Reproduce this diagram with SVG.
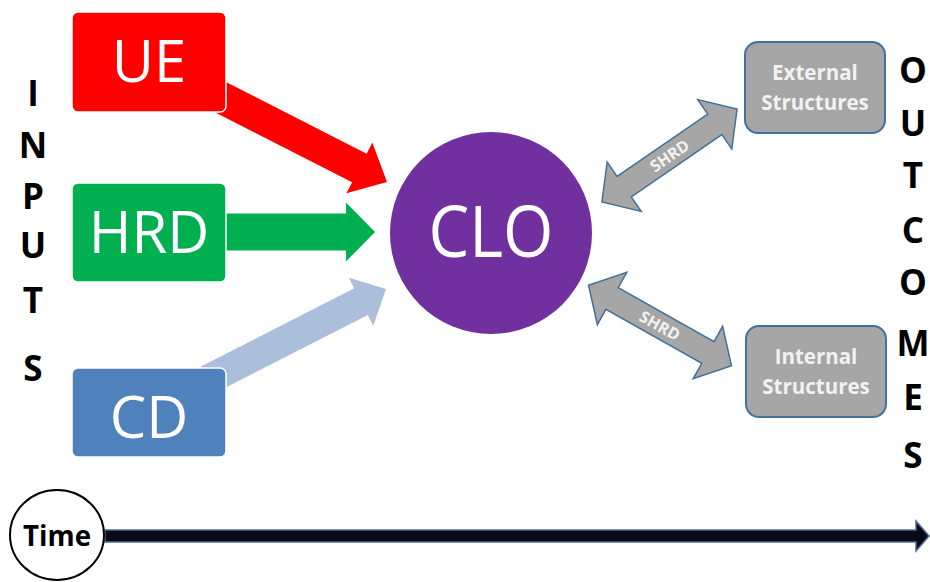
<svg xmlns="http://www.w3.org/2000/svg" width="930" height="582" viewBox="0 0 930 582">
  <style>
    .box { stroke: #ffffff; stroke-width: 1.5; }
    .boxlabel { font-family: "Open Sans", "Liberation Sans", sans-serif; font-size: 58px; fill: #ffffff; text-anchor: middle; }
    .struct { fill: #a6a6a6; stroke: #41719c; stroke-width: 2; }
    .structlabel { font-family: "Open Sans", "Liberation Sans", sans-serif; font-weight: bold; font-size: 20.5px; fill: #f2f2f2; text-anchor: middle; }
    .side { font-family: "Open Sans", "Liberation Sans", sans-serif; font-weight: bold; font-size: 35px; fill: #000000; text-anchor: middle; }
    .dbl { fill: #a6a6a6; stroke: #41719c; stroke-width: 1.5; stroke-linejoin: miter; }
    .shrd { font-family: "Open Sans", "Liberation Sans", sans-serif; font-weight: bold; font-size: 16px; fill: #f2f2f2; text-anchor: middle; }
  </style>

  <!-- input flows and two-way links -->
  <g id="connectors">
    <polygon fill="#ff0000" transform="translate(387,182) rotate(27)" points="0,0 -31,-28.5 -31,-16 -200,-16 -200,16 -31,16 -31,28.5"/>
    <polygon fill="#00b050" transform="translate(375,232)" points="0,0 -29,-29.5 -29,-18.5 -160,-18.5 -160,18.5 -29,18.5 -29,29.5"/>
    <polygon fill="#abbfdd" transform="translate(386,289) rotate(-27)" points="0,0 -28,-27 -28,-15 -200,-15 -200,15 -28,15 -28,27"/>

    <g transform="translate(669.5,155.5) rotate(-34.5)">
      <polygon class="dbl" points="-82,0 -55,-30 -55,-12.5 55,-12.5 55,-30 82,0 55,30 55,12.5 -55,12.5 -55,30"/>
      <text class="shrd" x="0" y="6">SHRD</text>
    </g>
    <g transform="translate(660,325.5) rotate(29.4)">
      <polygon class="dbl" points="-82,0 -55,-30 -55,-12.5 55,-12.5 55,-30 82,0 55,30 55,12.5 -55,12.5 -55,30"/>
      <text class="shrd" x="0" y="6">SHRD</text>
    </g>
  </g>

  <g id="node-ue">
    <rect class="box" x="72" y="12" width="154" height="100" rx="6" fill="#ff0000"/>
    <text class="boxlabel" x="149" y="82">UE</text>
  </g>
  <g id="node-hrd">
    <rect class="box" x="72" y="183" width="154" height="99" rx="6" fill="#00b050"/>
    <text class="boxlabel" x="149" y="253">HRD</text>
  </g>
  <g id="node-cd">
    <rect class="box" x="72" y="368" width="154" height="89" rx="6" fill="#4f81bd"/>
    <text class="boxlabel" x="149" y="438">CD</text>
  </g>

  <g id="node-clo">
    <circle cx="491" cy="233" r="101" fill="#7030a0"/>
    <text x="491" y="257" font-family="Open Sans, Liberation Sans, sans-serif" font-size="72" fill="#ffffff" text-anchor="middle" textLength="125" lengthAdjust="spacingAndGlyphs">CLO</text>
  </g>

  <g id="node-external">
    <rect class="struct" x="745" y="42" width="140" height="91" rx="13"/>
    <text class="structlabel" x="815" y="80">External</text>
    <text class="structlabel" x="815" y="110">Structures</text>
  </g>
  <g id="node-internal">
    <rect class="struct" x="746" y="326" width="140" height="91" rx="13"/>
    <text class="structlabel" x="816" y="364">Internal</text>
    <text class="structlabel" x="816" y="394">Structures</text>
  </g>

  <g id="inputs-label">
    <text class="side" x="33" y="106">I</text>
    <text class="side" x="33" y="158">N</text>
    <text class="side" x="33" y="209">P</text>
    <text class="side" x="33" y="258">U</text>
    <text class="side" x="33" y="313">T</text>
    <text class="side" x="33" y="381">S</text>
  </g>

  <g id="outcomes-label">
    <text class="side" x="913" y="83">O</text>
    <text class="side" x="913" y="136">U</text>
    <text class="side" x="913" y="188">T</text>
    <text class="side" x="913" y="243">C</text>
    <text class="side" x="913" y="295">O</text>
    <text class="side" x="913" y="356">M</text>
    <text class="side" x="913" y="410">E</text>
    <text class="side" x="913" y="468">S</text>
  </g>

  <g id="time-axis">
    <polygon fill="#0a0a14" stroke="#4a6d99" stroke-width="1.5" points="105,530 916,530 916,521 929,536 916,551 916,542 105,542"/>
  </g>
  <g id="node-time">
    <ellipse cx="57" cy="535" rx="47" ry="45" fill="#ffffff" stroke="#000000" stroke-width="2"/>
    <text x="57" y="546" font-family="Open Sans, Liberation Sans, sans-serif" font-weight="bold" font-size="28" fill="#000000" text-anchor="middle" textLength="68" lengthAdjust="spacingAndGlyphs">Time</text>
  </g>
</svg>
